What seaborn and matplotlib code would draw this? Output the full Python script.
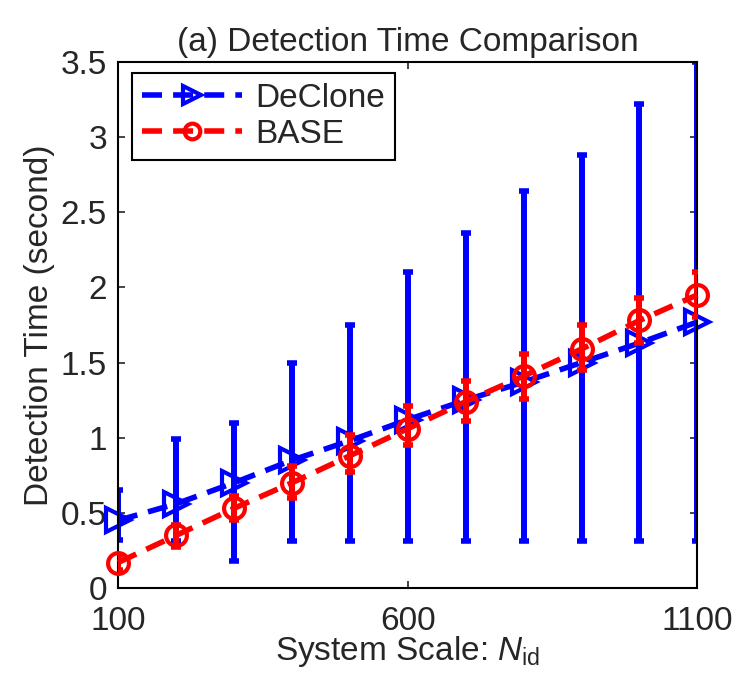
import numpy as np
import pandas as pd
import matplotlib
matplotlib.use('Agg')
import matplotlib.pyplot as plt
import seaborn as sns

# system scale
n_id = [100, 200, 300, 400, 500, 600, 700, 800, 900, 1000, 1100]

# DeClone mean + error bar bounds
declone = [0.45, 0.56, 0.70, 0.85, 0.98, 1.12, 1.25, 1.37, 1.50, 1.63, 1.77]
declone_hi = [0.65, 0.99, 1.10, 1.50, 1.75, 2.10, 2.36, 2.64, 2.88, 3.22, 3.50]
declone_lo = [0.32, 0.31, 0.18, 0.31, 0.31, 0.31, 0.31, 0.31, 0.31, 0.31, 0.31]

# BASE mean + error bar bounds
base = [0.17, 0.35, 0.53, 0.70, 0.88, 1.06, 1.24, 1.41, 1.59, 1.78, 1.95]
base_hi = [0.22, 0.42, 0.61, 0.81, 1.02, 1.21, 1.38, 1.56, 1.75, 1.93, 2.10]
base_lo = [0.12, 0.27, 0.45, 0.60, 0.77, 0.95, 1.11, 1.26, 1.45, 1.63, 1.80]

sns.set_style('ticks')
plt.rcParams['font.family'] = ['Liberation Sans', 'DejaVu Sans']
plt.rcParams['mathtext.fontset'] = 'custom'
plt.rcParams['mathtext.rm'] = 'Liberation Sans'
plt.rcParams['mathtext.it'] = 'Liberation Sans:italic'

df = pd.DataFrame({
    'N': n_id + n_id,
    'time': declone + base,
    'method': ['DeClone'] * len(n_id) + ['BASE'] * len(n_id),
})

fig = plt.figure(figsize=(7.38, 6.87), dpi=100)
ax = fig.add_axes([0.160, 0.144, 0.785, 0.766])

# error bars first so markers sit on top
ax.errorbar(n_id, declone,
            yerr=[np.array(declone) - np.array(declone_lo), np.array(declone_hi) - np.array(declone)],
            fmt='none', ecolor='#0000ff', elinewidth=4.3, capsize=3.5, capthick=4, zorder=1)

sns.lineplot(data=df[df['method'] == 'DeClone'], x='N', y='time', color='#0000ff',
             lw=4, marker='>', markersize=17, markerfacecolor='none',
             markeredgecolor='#0000ff', markeredgewidth=3,
             dashes=False, ax=ax, label='DeClone', zorder=2)
ax.lines[-1].set_dashes([3.6, 2.0])
ax.lines[-1].set_clip_on(False)

ax.errorbar(n_id, base,
            yerr=[np.array(base) - np.array(base_lo), np.array(base_hi) - np.array(base)],
            fmt='none', ecolor='#ff0000', elinewidth=4.3, capsize=3.5, capthick=4, zorder=3)

sns.lineplot(data=df[df['method'] == 'BASE'], x='N', y='time', color='#ff0000',
             lw=4, marker='o', markersize=15, markerfacecolor='none',
             markeredgecolor='#ff0000', markeredgewidth=3,
             dashes=False, ax=ax, label='BASE', zorder=4)
ax.lines[-1].set_dashes([3.6, 2.0])
ax.lines[-1].set_clip_on(False)

ax.set_xlim(100, 1100)
ax.set_ylim(0, 3.5)
ax.set_xticks([100, 600, 1100])
ax.set_xticklabels(['100', '600', '1100'])
ax.set_yticks([0, 0.5, 1, 1.5, 2, 2.5, 3, 3.5])
ax.set_yticklabels(['0', '0.5', '1', '1.5', '2', '2.5', '3', '3.5'])
ax.tick_params(direction='in', top=True, right=True, labelsize=24, length=5, width=1.2)
ax.tick_params(axis='x', pad=13)
ax.tick_params(axis='y', pad=8)
for sp in ax.spines.values():
    sp.set_visible(True)
    sp.set_linewidth(1.5)
    sp.set_color('black')

ax.set_xlabel('System Scale: $N_{\\mathregular{id}}$', fontsize=24, labelpad=-2)
ax.set_ylabel('Detection Time (second)', fontsize=24, labelpad=4)
ax.set_title('(a) Detection Time Comparison', fontsize=24, pad=8)

leg = ax.legend(loc='upper left', fontsize=24, handlelength=3.0, frameon=True,
                fancybox=False, borderpad=0.3, labelspacing=0.15, handletextpad=0.4,
                borderaxespad=0, markerscale=0.75,
                bbox_to_anchor=(0.024, 0.979))
leg.get_frame().set_edgecolor('black')
leg.get_frame().set_linewidth(1.5)
leg.get_frame().set_alpha(1)

fig.savefig('out.png', dpi=100)
